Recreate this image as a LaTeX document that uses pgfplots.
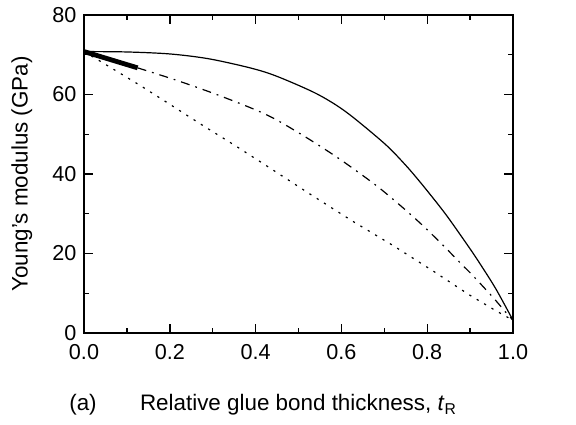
\documentclass[border=0pt]{standalone}
\usepackage{fontspec}
\setmainfont{Liberation Sans}
\usepackage{pgfplots}
\pgfplotsset{compat=1.18}
\usetikzlibrary{calc}
\begin{document}
\fontsize{10.8}{13}\selectfont
\begin{tikzpicture}
\begin{axis}[
  scale only axis, width=214.5pt, height=159pt,
  xmin=0, xmax=1, ymin=0, ymax=80,
  xtick={0,0.2,0.4,0.6,0.8,1}, xticklabels={0.0,0.2,0.4,0.6,0.8,1.0},
  ytick={0,20,40,60,80}, yticklabels={0,20,40,60,80},
  minor x tick num=1, minor y tick num=1,
  tick align=inside, major tick length=4.5pt, minor tick length=2.3pt,
  axis line style={line width=1pt},
  every tick/.style={line width=0.7pt, black},
  tick label style={font=\fontsize{10.8}{13}\selectfont},
  xticklabel style={yshift=-2pt},
  xlabel={Relative glue bond thickness, \textit{t}\textsubscript{R}},
  ylabel={Young's modulus (GPa)},
  label style={font=\fontsize{11.2}{13}\selectfont},
  xlabel style={at={(axis description cs:0.5,-0.245)}, anchor=base},
  ylabel style={at={(axis description cs:-0.145,0.5)}, anchor=center},
]
% solid
\addplot[black, line width=0.6pt, smooth] coordinates {
(0,70.8) (0.1,70.7) (0.2,70.2) (0.29,69.0) (0.387,66.7) (0.449,64.6)
(0.542,60.2) (0.611,55.6) (0.701,47.6) (0.749,42.3) (0.784,37.9)
(0.825,32.4) (0.853,28.4) (0.901,21.0) (0.925,17.1) (0.96,11.1) (1.0,3.2)};
% dash-dot
\addplot[black, line width=0.6pt, smooth, dash pattern=on 4.5pt off 3pt on 0.9pt off 3pt] coordinates {
(0.125,66.7) (0.215,63.6) (0.304,60.2) (0.394,56.4) (0.449,53.6)
(0.524,48.8) (0.598,43.6) (0.68,37.2) (0.736,32.2) (0.784,27.6)
(0.832,22.6) (0.881,17.2) (0.905,14.6) (0.953,9.0) (0.984,5.1) (1.0,3.2)};
% thick initial segment
\addplot[black, line width=2.4pt] coordinates {(0,70.8) (0.125,66.7)};
% dotted
\addplot[black, line width=0.6pt, dash pattern=on 1.1pt off 3.2pt] coordinates {
(0,70.8) (0.042,68.1) (0.132,62.2) (0.202,57.4) (0.277,52.2) (0.353,47.1)
(0.415,42.8) (0.449,40.4) (0.529,34.8) (0.625,28.2) (0.722,21.9)
(0.818,15.3) (0.836,14.0) (0.898,9.6) (0.96,5.6) (1.0,3.2)};
\end{axis}
\node[anchor=base, font=\fontsize{11.2}{13}\selectfont] at ($(current axis.south west)+(-0.5pt,-39pt)$) {(a)};
\pgfresetboundingbox
\path ($(current axis.south west)+(-42pt,-46pt)$) rectangle ($(current axis.north east)+(31.5pt,7.5pt)$);
\end{tikzpicture}
\end{document}
